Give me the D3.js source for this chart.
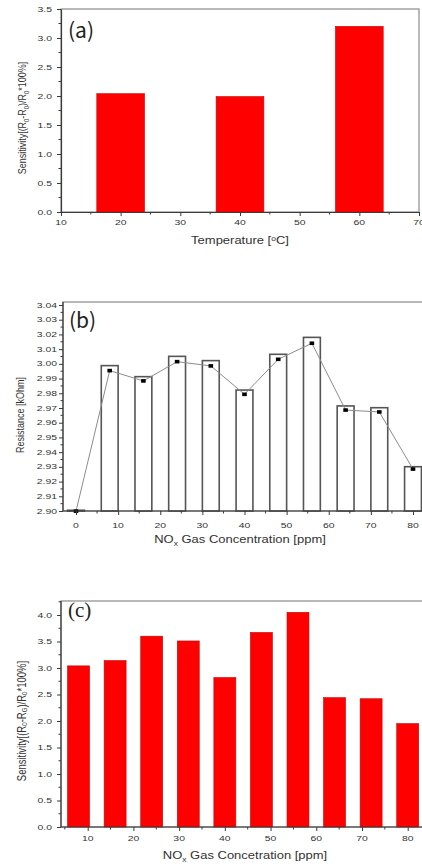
<!DOCTYPE html>
<html><head><meta charset="utf-8">
<script src="https://cdn.jsdelivr.net/npm/d3@7"></script>
<style>
html,body{margin:0;padding:0;background:#fff;}
svg{display:block;}
</style></head>
<body>
<svg id="c" width="422" height="864"></svg>
<script>
// ---- Data ----
const tempCategories = [20, 40, 60];
const tempSensitivity = [2.04, 1.99, 3.20];
const tempXTicks = [10, 20, 30, 40, 50, 60, 70];
const tempYTicks = [0.0, 0.5, 1.0, 1.5, 2.0, 2.5, 3.0, 3.5];

const concCategories = [0, 8, 16, 24, 32, 40, 48, 56, 64, 72, 80];
const resistanceBars = [2.9005, 2.9988, 2.9913, 3.0051, 3.0022, 2.9822, 3.0065, 3.0180, 2.9714, 2.9702, 2.9301];
const resistancePoints = [2.8999, 2.9954, 2.9884, 3.0015, 2.9986, 2.9793, 3.0031, 3.0140, 2.9686, 2.9673, 2.9285];
const resXTicks = [0, 10, 20, 30, 40, 50, 60, 70, 80];
const resYTicks = [2.90, 2.91, 2.92, 2.93, 2.94, 2.95, 2.96, 2.97, 2.98, 2.99, 3.00, 3.01, 3.02, 3.03, 3.04];

const sensCategories = [8, 16, 24, 32, 40, 48, 56, 64, 72, 80];
const sensValues = [3.04, 3.14, 3.60, 3.51, 2.82, 3.67, 4.05, 2.44, 2.42, 1.95];
const sensXTicks = [10, 20, 30, 40, 50, 60, 70, 80];
const sensYTicks = [0.0, 0.5, 1.0, 1.5, 2.0, 2.5, 3.0, 3.5, 4.0];

// ---- Drawing ----
const svg = d3.select("#c");
const SX = 1.3; // horizontal stretch of the original image
const FONT = "'Liberation Sans', Arial, sans-serif";
const axisCol = "#3a3a3a", frameCol = "#8a8a8a", textCol = "#333";

function styleAxis(g){
  g.selectAll("path.domain").attr("stroke", axisCol).attr("stroke-width", 1.2);
  g.selectAll(".tick line").attr("stroke", axisCol).attr("stroke-width", 1);
}
function minorTicks(g, scale, values, orient, len){
  values.forEach(v=>{
    if(orient==="bottom"){
      g.append("line").attr("x1",scale(v)).attr("x2",scale(v)).attr("y1",0).attr("y2",len)
        .attr("stroke",axisCol).attr("stroke-width",1);
    } else {
      g.append("line").attr("y1",scale(v)).attr("y2",scale(v)).attr("x1",0).attr("x2",-len)
        .attr("stroke",axisCol).attr("stroke-width",1);
    }
  });
}
function xLabels(g, scale, ticks, fmt, dy){
  ticks.forEach(t=>{
    g.append("text").attr("transform",`translate(${scale(t)},${dy}) scale(${SX},1)`)
      .attr("text-anchor","middle").attr("dominant-baseline","central")
      .attr("font-family",FONT).attr("font-size",8).attr("fill",textCol).text(fmt(t));
  });
}
function yLabels(g, scale, ticks, fmt, dx){
  ticks.forEach(t=>{
    g.append("text").attr("transform",`translate(${-dx},${scale(t)}) scale(${SX},1)`)
      .attr("text-anchor","end").attr("dominant-baseline","central")
      .attr("font-family",FONT).attr("font-size",8).attr("fill",textCol).text(fmt(t));
  });
}
function xTitle(x, y, parts){
  const t = svg.append("text").attr("transform",`translate(${x},${y}) scale(${SX},1)`)
    .attr("text-anchor","middle").attr("font-family",FONT).attr("font-size",10).attr("fill",textCol);
  parts.forEach(p=>{
    const s = t.append("tspan").text(p.t);
    if(p.sub){ s.attr("font-size",6.5).attr("dy",2.5); }
    else if(p.after){ s.attr("dy",-2.5); }
    if(p.sup){ s.attr("font-size",6.5).attr("dy",-3.5); }
    if(p.afterSup){ s.attr("dy",3.5); }
  });
}
function yTitle(x, y, parts, fs){
  const t = svg.append("text").attr("transform",`translate(${x},${y}) rotate(-90) scale(1,${SX})`)
    .attr("text-anchor","middle").attr("dominant-baseline","central")
    .attr("font-family",FONT).attr("font-size",fs).attr("fill",textCol);
  parts.forEach(p=>{
    const s = t.append("tspan").text(p.t);
    if(p.sub){ s.attr("font-size",fs*0.65).attr("dy",2.5); }
    else if(p.after){ s.attr("dy",-2.5); }
  });
}
function panelLabel(x, y, txt, family){
  svg.append("text").attr("x",x).attr("y",y).attr("font-family",family)
    .attr("font-size",21).attr("fill","#222").text(txt);
}

// ===== Panel (a) =====
{
  const L=61, R=419, T=9, B=212;
  const x = d3.scaleLinear().domain([10,70]).range([L,R]);
  const y = d3.scaleLinear().domain([0,3.5]).range([B,T]);
  const barW = 8;
  svg.append("rect").attr("x",L).attr("y",T).attr("width",R-L).attr("height",B-T)
    .attr("fill","none").attr("stroke",frameCol).attr("stroke-width",1.2);
  svg.append("g").selectAll("rect").data(tempCategories).join("rect")
    .attr("x",(d)=>x(d-barW/2)).attr("width",(d)=>x(d+barW/2)-x(d-barW/2))
    .attr("y",(d,i)=>y(tempSensitivity[i])).attr("height",(d,i)=>y(0)-y(tempSensitivity[i]))
    .attr("fill","#ff0000").attr("stroke","#c80000").attr("stroke-width",0.6);
  const gx = svg.append("g").attr("transform",`translate(0,${B})`)
    .call(d3.axisBottom(x).tickValues(tempXTicks).tickSize(4).tickSizeOuter(0).tickFormat(""));
  styleAxis(gx);
  minorTicks(gx, x, [15,25,35,45,55,65], "bottom", 2.5);
  xLabels(gx, x, tempXTicks, d3.format("d"), 10);
  const gy = svg.append("g").attr("transform",`translate(${L},0)`)
    .call(d3.axisLeft(y).tickValues(tempYTicks).tickSize(4).tickSizeOuter(0).tickFormat(""));
  styleAxis(gy);
  minorTicks(gy, y, [0.25,0.75,1.25,1.75,2.25,2.75,3.25], "left", 2.5);
  yLabels(gy, y, tempYTicks, d3.format(".1f"), 9);
  xTitle(240, 244, [{t:"Temperature ["},{t:"o",sup:true},{t:"C]",afterSup:true}]);
  yTitle(22, 118, [{t:"Sensitivity[(R"},{t:"0",sub:true},{t:"-R",after:true},{t:"0",sub:true},
    {t:")/R",after:true},{t:"0",sub:true},{t:"*100%]",after:true}], 9);
  panelLabel(68, 38, "(a)", "'Noto Sans CJK KR', 'DejaVu Sans', sans-serif");
}

// ===== Panel (b) =====
{
  const L=63, Rr=430, T=302, B=511;
  const x = d3.scaleLinear().domain([0,80]).range([76,413]);
  const y = d3.scaleLinear().domain([2.90,3.04]).range([B,305]);
  const barW = 4;
  svg.append("rect").attr("x",L).attr("y",T).attr("width",Rr-L).attr("height",B-T)
    .attr("fill","none").attr("stroke",frameCol).attr("stroke-width",1.2);
  svg.append("g").selectAll("rect").data(concCategories).join("rect")
    .attr("x",(d)=>x(d-barW/2)).attr("width",(d)=>x(d+barW/2)-x(d-barW/2))
    .attr("y",(d,i)=>y(resistanceBars[i])).attr("height",(d,i)=>y(2.90)-y(resistanceBars[i]))
    .attr("fill","#fff").attr("stroke","#555").attr("stroke-width",1.6);
  const line = d3.line().x((d)=>x(d)).y((d,i)=>y(resistancePoints[i]));
  svg.append("path").datum(concCategories).attr("d",line)
    .attr("fill","none").attr("stroke","#8c8c8c").attr("stroke-width",1);
  svg.append("g").selectAll("rect").data(concCategories).join("rect")
    .attr("x",(d)=>x(d)-2.3).attr("y",(d,i)=>y(resistancePoints[i])-1.8)
    .attr("width",4.6).attr("height",3.6).attr("fill","#000");
  const gx = svg.append("g").attr("transform",`translate(0,${B})`)
    .call(d3.axisBottom(x).tickValues(resXTicks).tickSize(4).tickSizeOuter(0).tickFormat(""));
  styleAxis(gx);
  gx.select("path.domain").remove();
  gx.append("line").attr("x1",L).attr("x2",Rr).attr("y1",0).attr("y2",0).attr("stroke",axisCol).attr("stroke-width",1.2);
  minorTicks(gx, x, [5,15,25,35,45,55,65,75], "bottom", 2.5);
  xLabels(gx, x, resXTicks, d3.format("d"), 14);
  const gy = svg.append("g").attr("transform",`translate(${L},0)`)
    .call(d3.axisLeft(y).tickValues(resYTicks).tickSize(4).tickSizeOuter(0).tickFormat(""));
  styleAxis(gy);
  gy.select("path.domain").remove();
  gy.append("line").attr("x1",0).attr("x2",0).attr("y1",T).attr("y2",B).attr("stroke",axisCol).attr("stroke-width",1.2);
  minorTicks(gy, y, d3.range(0,14).map(i=>2.905+i*0.01), "left", 2.5);
  yLabels(gy, y, resYTicks, d3.format(".2f"), 6);
  xTitle(240, 543, [{t:"NO"},{t:"x",sub:true},{t:" Gas Concentration [ppm]",after:true}]);
  yTitle(20, 415, [{t:"Resistance [kOhm]"}], 9);
  panelLabel(69, 328, "(b)", "'Noto Sans CJK KR', 'DejaVu Sans', sans-serif");
}

// ===== Panel (c) =====
{
  const L=61, Rr=430, T=601, B=827;
  const x = d3.scaleLinear().domain([10,80]).range([87.7,407.7]);
  const y = d3.scaleLinear().domain([0,4.0]).range([B,615]);
  const barW = 4.8;
  svg.append("rect").attr("x",L).attr("y",T).attr("width",Rr-L).attr("height",B-T)
    .attr("fill","none").attr("stroke",frameCol).attr("stroke-width",1.2);
  svg.append("g").selectAll("rect").data(sensCategories).join("rect")
    .attr("x",(d)=>x(d-barW/2)).attr("width",(d)=>x(d+barW/2)-x(d-barW/2))
    .attr("y",(d,i)=>y(sensValues[i])).attr("height",(d,i)=>y(0)-y(sensValues[i]))
    .attr("fill","#ff0000").attr("stroke","#c00000").attr("stroke-width",0.6);
  const gx = svg.append("g").attr("transform",`translate(0,${B})`)
    .call(d3.axisBottom(x).tickValues(sensXTicks).tickSize(4).tickSizeOuter(0).tickFormat(""));
  styleAxis(gx);
  gx.select("path.domain").remove();
  gx.append("line").attr("x1",L).attr("x2",Rr).attr("y1",0).attr("y2",0).attr("stroke",axisCol).attr("stroke-width",1.2);
  minorTicks(gx, x, [5,15,25,35,45,55,65,75], "bottom", 2.5);
  xLabels(gx, x, sensXTicks, d3.format("d"), 11);
  const gy = svg.append("g").attr("transform",`translate(${L},0)`)
    .call(d3.axisLeft(y).tickValues(sensYTicks).tickSize(4).tickSizeOuter(0).tickFormat(""));
  styleAxis(gy);
  gy.select("path.domain").remove();
  gy.append("line").attr("x1",0).attr("x2",0).attr("y1",T).attr("y2",B).attr("stroke",axisCol).attr("stroke-width",1.2);
  minorTicks(gy, y, [0.25,0.75,1.25,1.75,2.25,2.75,3.25,3.75,4.25], "left", 2.5);
  yLabels(gy, y, sensYTicks, d3.format(".1f"), 9);
  xTitle(245, 859, [{t:"NO"},{t:"x",sub:true},{t:" Gas Concetration [ppm]",after:true}]);
  yTitle(22, 721, [{t:"Sensitivity[(R"},{t:"0",sub:true},{t:"-R",after:true},{t:"G",sub:true},
    {t:")/R",after:true},{t:"0",sub:true},{t:"*100%]",after:true}], 9.5);
  panelLabel(68, 617, "(c)", "'Liberation Serif', 'DejaVu Serif', serif");
}
</script>
</body></html>
